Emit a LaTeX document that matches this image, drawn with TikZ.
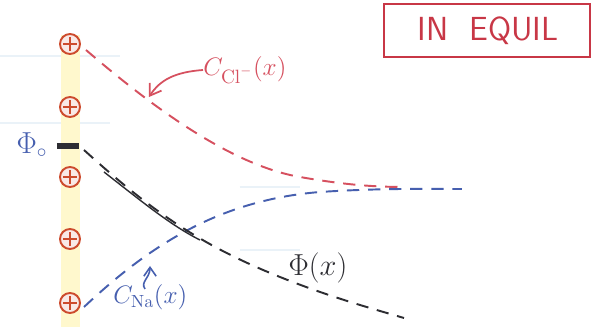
\documentclass[tikz,border=0pt]{standalone}
\usetikzlibrary{arrows.meta}
\definecolor{penred}{RGB}{214,80,95}
\definecolor{boxred}{RGB}{200,55,70}
\definecolor{ionred}{RGB}{205,75,45}
\definecolor{penblue}{RGB}{70,95,175}
\definecolor{penblack}{RGB}{45,45,50}
\definecolor{paperline}{RGB}{234,242,248}
\definecolor{stripe}{RGB}{255,248,205}
\begin{document}
\begin{tikzpicture}[x=0.02cm,y=-0.02cm,
  ion/.style={draw=ionred,line width=1.1pt,fill=ionred!12},
  curve/.style={line width=1.1pt,dash pattern=on 7pt off 5pt},
  hand/.style={inner sep=0pt}]
\useasboundingbox (0,0) rectangle (600,327);
\fill[white] (0,0) rectangle (600,327);
% faint ruled paper lines
\draw[paperline,line width=1pt] (0,56) -- (120,56);
\draw[paperline,line width=1pt] (0,123) -- (110,123);
\draw[paperline,line width=1pt] (240,187) -- (300,187);
\draw[paperline,line width=1pt] (240,250) -- (300,250);
% membrane stripe
\fill[stripe] (61,35) rectangle (80,327);
% ions
\foreach \n/\y in {1/44,2/107,3/177,4/239,5/303}{
  \filldraw[ion] (70,\y) circle (10);
  \draw[ionred,line width=1pt] (63,\y) -- (77,\y) (70,\y-7) -- (70,\y+7);
  \coordinate (ion\n) at (70,\y);
}
% potential tick and label
\draw[penblack,line width=3pt] (57,146) -- (79,146);
\node[hand,text=penblue,font=\fontsize{16}{18}\selectfont] (phi0) at (32,145) {$\Phi_{\circ}$};
% Cl- curve
\coordinate (clstart) at (86,50);
\coordinate (clend) at (405,187);
\draw[penred,curve] (clstart) .. controls (150,105) and (230,165) .. (300,177) .. controls (340,184) and (370,187) .. (clend);
% Na curve
\coordinate (nastart) at (84,307);
\coordinate (naend) at (462,189);
\draw[penblue,curve] (nastart) .. controls (150,245) and (220,200) .. (320,192) .. controls (380,188) and (430,189) .. (naend);
% Phi curve
\coordinate (phistart) at (84,150);
\coordinate (phiend) at (404,318);
\draw[penblack,curve] (phistart) .. controls (150,210) and (200,245) .. (280,277) .. controls (330,297) and (370,308) .. (phiend);
\draw[penblack,line width=0.8pt] (104,172) .. controls (140,200) and (170,225) .. (200,240);
% labels
\node[hand,text=penred,font=\fontsize{15}{17}\selectfont,anchor=west] (cl) at (203,70) {$C_{\mathrm{Cl}^{-}}(x)$};
\draw[penred,line width=1pt,-{Straight Barb[length=6pt,width=8pt]}] (cl.west) .. controls (175,72) and (160,80) .. (149,97);
\node[hand,text=penblue,font=\fontsize{14}{16}\selectfont,anchor=west] (na) at (113,297) {$C_{\mathrm{Na}}(x)$};
\draw[penblue,line width=0.9pt,-{Straight Barb[length=5pt,width=7pt]}] (145,289) .. controls (140,282) and (150,278) .. (150,266);
\node[hand,text=penblack,font=\fontsize{18}{20}\selectfont] (phi) at (318,268) {$\Phi(x)$};
% IN EQUIL box
\draw[boxred,line width=1.2pt] (384,4) rectangle (590,57);
\node[hand,text=boxred,font=\sffamily\fontsize{19}{21}\selectfont] (eqtext) at (488,31) {IN\ \ EQUIL};
\end{tikzpicture}
\end{document}
